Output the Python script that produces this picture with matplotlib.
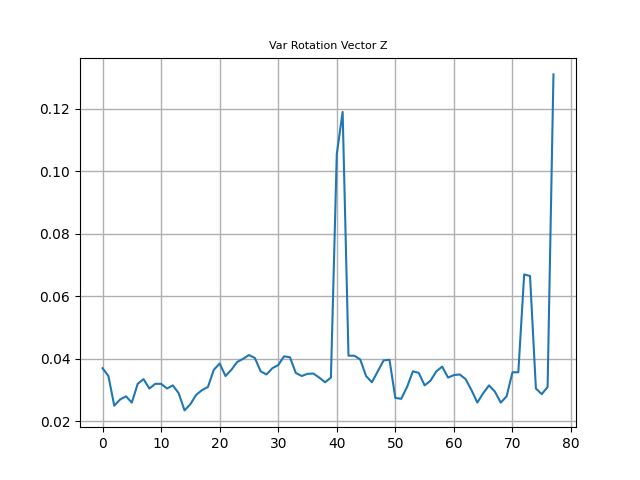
import matplotlib
matplotlib.use("Agg")
import matplotlib.pyplot as plt

values = [0.037,0.0345,0.025,0.027,0.028,0.026,0.032,0.0335,0.0305,0.032,
0.032,0.0305,0.0315,0.029,0.0235,0.0255,0.0285,0.030,0.031,0.0365,
0.0385,0.0345,0.0365,0.039,0.040,0.0412,0.0403,0.036,0.035,0.037,
0.038,0.0408,0.0405,0.0355,0.0345,0.0352,0.0353,0.034,0.0325,0.034,
0.1055,0.119,0.041,0.041,0.0398,0.0345,0.0325,0.036,0.0395,0.0397,
0.0275,0.0272,0.031,0.036,0.0355,0.0315,0.033,0.036,0.0375,0.034,
0.0348,0.035,0.0335,0.030,0.026,0.029,0.0315,0.0295,0.026,0.028,
0.0357,0.0357,0.067,0.0665,0.0305,0.0287,0.031,0.131]

fig, ax = plt.subplots(figsize=(6.4, 4.8), dpi=100)
ax.plot(range(len(values)), values)
ax.set_title("Var Rotation Vector Z", fontsize=8)
ax.grid(True, color="#b0b0b0", linewidth=1)
fig.savefig("out.png")
